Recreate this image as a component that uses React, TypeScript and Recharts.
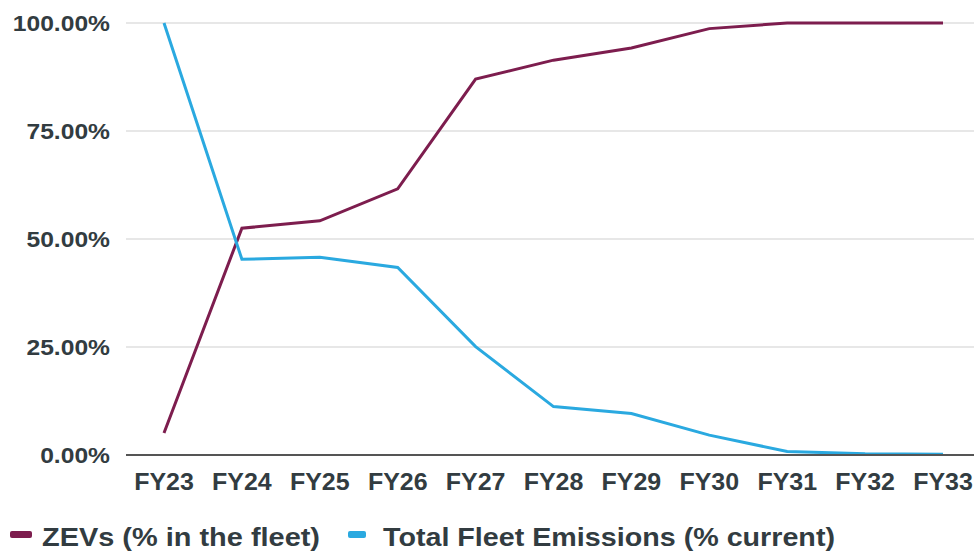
import React from 'react';
import { LineChart, Line, XAxis, YAxis, CartesianGrid } from 'recharts';

const categories = ['FY23', 'FY24', 'FY25', 'FY26', 'FY27', 'FY28', 'FY29', 'FY30', 'FY31', 'FY32', 'FY33'];
const zevValues = [5.1, 52.5, 54.2, 61.6, 87.0, 91.4, 94.2, 98.7, 100, 100, 100];
const emissionValues = [100, 45.3, 45.8, 43.4, 25.1, 11.2, 9.6, 4.6, 0.8, 0.3, 0.2];
const yTicks = [0, 25, 50, 75, 100];
const seriesNames = ['ZEVs (% in the fleet)', 'Total Fleet Emissions (% current)'];
const seriesColors = ['#7d1d4e', '#2aa9e0'];

const data = categories.map((c, i) => ({ cat: c, zev: zevValues[i], em: emissionValues[i] }));

const TEXT = '#323c41';
const FONT = '"Liberation Sans", Arial, sans-serif';

const YTick = (props: any) => {
  const { x, y, payload } = props;
  return (
    <g transform={`translate(${x},${y})`}>
      <text transform="scale(1.12,1)" textAnchor="end" dy="0.36em" fontFamily={FONT} fontWeight="bold" fontSize={22} fill={TEXT}>
        {Number(payload.value).toFixed(2)}%
      </text>
    </g>
  );
};

const XTick = (props: any) => {
  const { x, y, payload } = props;
  return (
    <g transform={`translate(${x},${y})`}>
      <text transform="scale(1.04,1)" textAnchor="middle" dy="0.72em" fontFamily={FONT} fontWeight="bold" fontSize={24} fill={TEXT}>
        {payload.value}
      </text>
    </g>
  );
};

const legendLayout = [
  { swX: 10, swW: 22, textX: 42, textW: 278 },
  { swX: 348, swW: 18, textX: 383, textW: 452 },
];

export default function App() {
  return (
    <div style={{ position: 'absolute', left: 0, top: 0, width: 974, height: 551, background: '#fff' }}>
      <LineChart width={974} height={551} data={data} margin={{ top: 23, right: 0, left: 0, bottom: 66 }}>
        <CartesianGrid horizontal={true} vertical={false} stroke="#cfcfcf" strokeWidth={1.2} />
        <XAxis
          dataKey="cat"
          height={30}
          padding={{ left: 38, right: 31 }}
          axisLine={{ stroke: '#555', strokeWidth: 2 }}
          tickLine={false}
          tickSize={0}
          tickMargin={18}
          tick={<XTick />}
          interval={0}
        />
        <YAxis
          width={126}
          domain={[0, 100]}
          ticks={yTicks}
          axisLine={false}
          tickLine={false}
          tickSize={0}
          tickMargin={16}
          tick={<YTick />}
        />
        <Line type="linear" dataKey="zev" name={seriesNames[0]} stroke={seriesColors[0]} strokeWidth={3} dot={false} isAnimationActive={false} />
        <Line type="linear" dataKey="em" name={seriesNames[1]} stroke={seriesColors[1]} strokeWidth={3} dot={false} isAnimationActive={false} />
      </LineChart>
      <svg width={974} height={551} style={{ position: 'absolute', left: 0, top: 0, pointerEvents: 'none' }}>
        {seriesNames.map((n, i) => (
          <g key={n}>
            <rect x={legendLayout[i].swX} y={531} width={legendLayout[i].swW} height={7} rx={2} fill={seriesColors[i]} />
            <text
              x={legendLayout[i].textX}
              y={546}
              textLength={legendLayout[i].textW}
              lengthAdjust="spacingAndGlyphs"
              fontFamily={FONT}
              fontWeight="bold"
              fontSize={26}
              fill={TEXT}
            >
              {n}
            </text>
          </g>
        ))}
      </svg>
    </div>
  );
}
